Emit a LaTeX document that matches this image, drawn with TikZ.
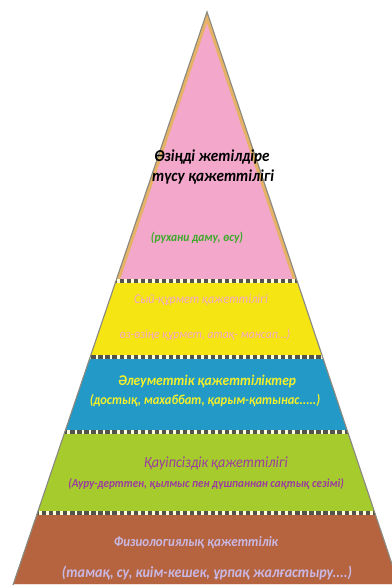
\documentclass[tikz,border=0pt]{standalone}
\usepackage{fontspec}
\setmainfont{Carlito}

\definecolor{pinkband}{HTML}{F2A7CB}
\definecolor{tanline}{HTML}{E6B266}
\definecolor{yellowband}{HTML}{F5E512}
\definecolor{blueband}{HTML}{2399C7}
\definecolor{greenband}{HTML}{A6CB2C}
\definecolor{brownband}{HTML}{B6643F}
\definecolor{edgegray}{HTML}{8A8A80}
\definecolor{greentext}{HTML}{3EAA2C}
\definecolor{pinktext}{HTML}{F2A6C9}
\definecolor{yellowtext}{HTML}{F4F02A}
\definecolor{purpletext}{HTML}{9A3CA0}
\definecolor{lilactext}{HTML}{C9B8E4}

\newcommand{\bisize}[1]{\bfseries\itshape\fontsize{#1}{#1}\selectfont}
\newcommand{\itsize}[1]{\itshape\fontsize{#1}{#1}\selectfont}

\tikzset{
  layer text/.style={inner sep=0pt, yscale=1.1},
  separator/.style={draw=edgegray!60!black, line width=2.2pt, dash pattern=on 3pt off 2pt}
}

\begin{document}
\begin{tikzpicture}[x=0.025cm, y=-0.025cm]
  \useasboundingbox[fill=white] (0,0) rectangle (392,585);
  \coordinate (apex) at (207,12);
  \coordinate (bl) at (13,585);
  \coordinate (br) at (399,585);

  % coloured layers
  \begin{scope}
    \clip (apex) -- (bl) -- (br) -- cycle;
    \fill[pinkband] (0,0) rectangle (392,281);
    \fill[yellowband] (0,281) rectangle (392,357);
    \fill[blueband] (0,357) rectangle (392,432);
    \fill[greenband] (0,432) rectangle (392,513);
    \fill[brownband] (0,513) rectangle (392,585);
    \begin{scope}
      \clip (0,0) rectangle (392,281);
      \draw[tanline, line width=5pt] (apex) -- (bl) -- (br) -- cycle;
    \end{scope}
    \foreach \y in {281,357,432,513} {
      \draw[white!85!yellow, line width=3pt] (0,\y) -- (392,\y);
      \draw[separator] (0,\y) -- (392,\y);
    }
    \draw[white!80!brownband, line width=2pt] (0,585) -- (392,585);
  \end{scope}
  \draw[edgegray, line width=0.8pt] (bl) -- (apex) -- (br);

  % texts
  \node[layer text, font=\bisize{10.8}, black] (self1) at (212,157) {Өзіңді жетілдіре};
  \node[layer text, font=\bisize{10.8}, black] (self2) at (213,177) {түсу қажеттілігі};
  \node[layer text, font=\bisize{8.2}, greentext] (self3) at (197,238) {(рухани даму, өсу)};

  \node[layer text, font=\itsize{8.6}, pinktext] (esteem1) at (201,300) {Сый-құрмет қажеттілігі};
  \node[layer text, font=\itsize{8.3}, pinktext] (esteem2) at (205,335) {өз-өзіңе құрмет, атақ- мансап...)};

  \node[layer text, font=\bisize{9.6}, yellowtext] (social1) at (207,381) {Әлеуметтік қажеттіліктер};
  \node[layer text, font=\bisize{8.9}, yellowtext] (social2) at (205,401) {(достық, махаббат, қарым-қатынас.....)};

  \node[layer text, font=\itsize{10}, purpletext] (safe1) at (216,463) {Қауіпсіздік қажеттілігі};
  \node[layer text, font=\bisize{7.9}, purpletext] (safe2) at (206,484) {(Ауру-дерттен, қылмыс пен дүшпаннан сақтық сезімі)};

  \node[layer text, font=\bisize{9.2}, lilactext] (body1) at (196,543) {Физиологиялық қажеттілік};
  \node[layer text, font=\bisize{10}, lilactext] (body2) at (207,573) {(тамақ, су, киім-кешек, ұрпақ жалғастыру....)};
\end{tikzpicture}
\end{document}
